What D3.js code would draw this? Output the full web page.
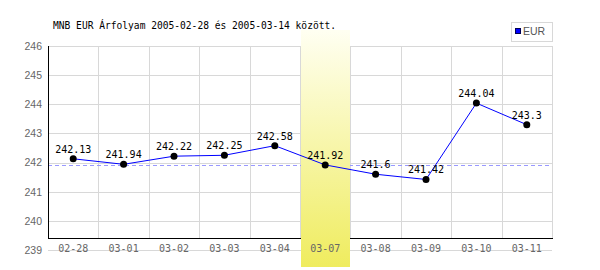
<!DOCTYPE html>
<html lang="hu">
  <head>
    <meta charset="utf-8">
    <title>MNB EUR Árfolyam</title>
    <script src="https://cdnjs.cloudflare.com/ajax/libs/d3/7.8.5/d3.min.js"></script>
    <style>
      body { margin: 0; background: #fff; }
      .mono { font-family: "DejaVu Sans Mono", monospace; }
      .ylab { font-family: "Liberation Sans", Arial, sans-serif; font-size: 10.5px; fill: #666; }
      .xlab { font-family: "DejaVu Sans Mono", monospace; font-size: 10px; fill: #666; }
    </style>
  </head>
  <body>
    <div id="chart"></div>
    <script>
    const titleText = "MNB EUR Árfolyam 2005-02-28 és 2005-03-14 között.";
    const dates = ["02-28", "03-01", "03-02", "03-03", "03-04", "03-07", "03-08", "03-09", "03-10", "03-11"];
    const rates = [242.13, 241.94, 242.22, 242.25, 242.58, 241.92, 241.6, 241.42, 244.04, 243.3];
    const yTicks = [239, 240, 241, 242, 243, 244, 245, 246];
    const highlightDate = "03-07";
    const refRate = 241.92;
    const seriesName = "EUR";

    const w = 600, h = 270;
    const plotL = 48, plotR = 552, plotT = 46, axisY = 238;

    const svg = d3.select("#chart").append("svg")
      .attr("width", w)
      .attr("height", h);

    const x = d3.scaleBand().domain(dates).range([plotL, plotR]);
    const y = d3.scaleLinear().domain([239, 246]).range([250, plotT]);

    // gradient for the highlighted day
    const grad = svg.append("defs").append("linearGradient")
      .attr("id", "hl").attr("x1", 0).attr("y1", 0).attr("x2", 0).attr("y2", 1);
    grad.append("stop").attr("offset", "0%").attr("stop-color", "#fffff2");
    grad.append("stop").attr("offset", "100%").attr("stop-color", "#efec5e");

    // horizontal grid
    svg.append("g").selectAll("line")
      .data(yTicks)
      .join("line")
      .attr("x1", plotL).attr("x2", plotR)
      .attr("y1", d => Math.round(y(d)) + 0.5).attr("y2", d => Math.round(y(d)) + 0.5)
      .attr("stroke", "#d8d8d8");

    // vertical grid
    const edges = dates.map(d => x(d) + x.bandwidth()).concat([plotL]);
    svg.append("g").selectAll("line")
      .data(edges)
      .join("line")
      .attr("x1", d => Math.round(d) + 0.5).attr("x2", d => Math.round(d) + 0.5)
      .attr("y1", plotT).attr("y2", axisY)
      .attr("stroke", "#d8d8d8");

    // reference line
    svg.append("line")
      .attr("x1", plotL).attr("x2", plotR)
      .attr("y1", Math.round(y(refRate)) + 0.5).attr("y2", Math.round(y(refRate)) + 0.5)
      .attr("stroke", "#9999ff")
      .attr("stroke-dasharray", "4,3");

    // axes lines
    svg.append("line")
      .attr("x1", plotL + 0.5).attr("x2", plotL + 0.5)
      .attr("y1", plotT).attr("y2", axisY + 1)
      .attr("stroke", "#000");
    svg.append("line")
      .attr("x1", plotL).attr("x2", plotR + 1)
      .attr("y1", axisY + 0.5).attr("y2", axisY + 0.5)
      .attr("stroke", "#000");

    // highlight band
    svg.append("rect")
      .attr("x", Math.round(x(highlightDate)) + 1)
      .attr("y", 30)
      .attr("width", Math.round(x.bandwidth()) - 1)
      .attr("height", 237)
      .attr("fill", "url(#hl)");

    // y labels
    const yAxis = d3.axisLeft(y).tickValues(yTicks).tickFormat(d3.format("d")).tickSize(0).tickPadding(6);
    const gy = svg.append("g").attr("transform", "translate(" + plotL + ",0)").call(yAxis);
    gy.select(".domain").remove();
    gy.attr("font-size", null).attr("font-family", null);
    gy.selectAll("text").attr("class", "ylab");

    // x labels
    const xAxis = d3.axisBottom(x).tickSize(0).tickPadding(0);
    const gx = svg.append("g").attr("transform", "translate(0,244)").call(xAxis);
    gx.select(".domain").remove();
    gx.attr("font-size", null).attr("font-family", null);
    gx.selectAll("text").attr("class", "xlab").attr("dy", "0.75em");

    // line
    const line = d3.line()
      .x((d, i) => x(dates[i]) + x.bandwidth() / 2)
      .y(d => y(d));
    svg.append("path")
      .datum(rates)
      .attr("d", line)
      .attr("fill", "none")
      .attr("stroke", "#0000ff")
      .attr("stroke-width", 1);

    svg.append("g").selectAll("circle")
      .data(rates)
      .join("circle")
      .attr("cx", (d, i) => x(dates[i]) + x.bandwidth() / 2)
      .attr("cy", d => y(d))
      .attr("r", 3.5)
      .attr("fill", "#000");

    svg.append("g").selectAll("text")
      .data(rates)
      .join("text")
      .attr("class", "mono")
      .attr("x", (d, i) => x(dates[i]) + x.bandwidth() / 2)
      .attr("y", d => y(d) - 6)
      .attr("text-anchor", "middle")
      .attr("font-size", "10px")
      .attr("fill", "#000")
      .text(d => String(d));

    // title
    svg.append("text")
      .attr("class", "mono")
      .attr("x", 53)
      .attr("y", 29)
      .attr("font-size", "9.6px")
      .attr("fill", "#000")
      .text(titleText);

    // legend
    const lg = svg.append("g");
    lg.append("rect")
      .attr("x", 511.5).attr("y", 22.5)
      .attr("width", 41).attr("height", 19)
      .attr("fill", "#fff")
      .attr("stroke", "#d8d8d8");
    lg.append("rect")
      .attr("x", 515.5).attr("y", 28.5)
      .attr("width", 5).attr("height", 5)
      .attr("fill", "#0000ff")
      .attr("stroke", "#000055");
    lg.append("text")
      .attr("x", 523)
      .attr("y", 35)
      .attr("font-family", "Liberation Sans, Arial, sans-serif")
      .attr("font-size", "10.5px")
      .attr("fill", "#555")
      .text(seriesName);
    </script>
  </body>
</html>
